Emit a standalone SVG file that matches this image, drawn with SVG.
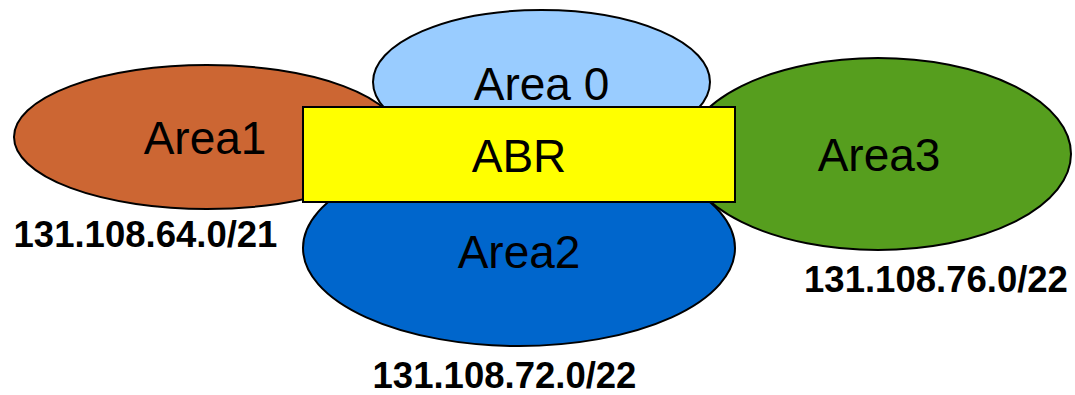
<svg xmlns="http://www.w3.org/2000/svg" width="1075" height="395" viewBox="0 0 1075 395">
  <style>
    .area { stroke: #000; stroke-width: 2; }
    .name { font-family: "Liberation Sans", Arial, sans-serif; font-size: 46px; fill: #000; text-anchor: middle; }
    .net { font-family: "Liberation Sans", Arial, sans-serif; font-size: 36.5px; font-weight: bold; fill: #000; text-anchor: middle; }
  </style>
  <rect width="1075" height="395" fill="#fff"/>

  <!-- OSPF areas -->
  <g id="area1">
    <ellipse class="area" cx="207" cy="137" rx="193" ry="72" fill="#CC6633"/>
    <text class="name" x="205" y="154">Area1</text>
  </g>
  <g id="area0">
    <ellipse class="area" cx="541.5" cy="82" rx="168.5" ry="72" fill="#99CCFF"/>
    <text class="name" x="541.5" y="100">Area 0</text>
  </g>
  <g id="area3">
    <ellipse class="area" cx="878" cy="154" rx="193" ry="96" fill="#569E1E"/>
    <text class="name" x="879" y="171">Area3</text>
  </g>
  <g id="area2">
    <ellipse class="area" cx="519" cy="248" rx="216" ry="98" fill="#0066CC"/>
    <text class="name" x="519" y="268">Area2</text>
  </g>

  <!-- area border router -->
  <g id="abr">
    <rect x="303" y="107" width="432" height="95" fill="#FFFF00" stroke="#000" stroke-width="2"/>
    <text class="name" x="519" y="172">ABR</text>
  </g>

  <!-- address ranges -->
  <g id="net-area1"><text class="net" x="145.5" y="247">131.108.64.0/21</text></g>
  <g id="net-area2"><text class="net" x="504.5" y="388">131.108.72.0/22</text></g>
  <g id="net-area3"><text class="net" x="936" y="292">131.108.76.0/22</text></g>
</svg>
